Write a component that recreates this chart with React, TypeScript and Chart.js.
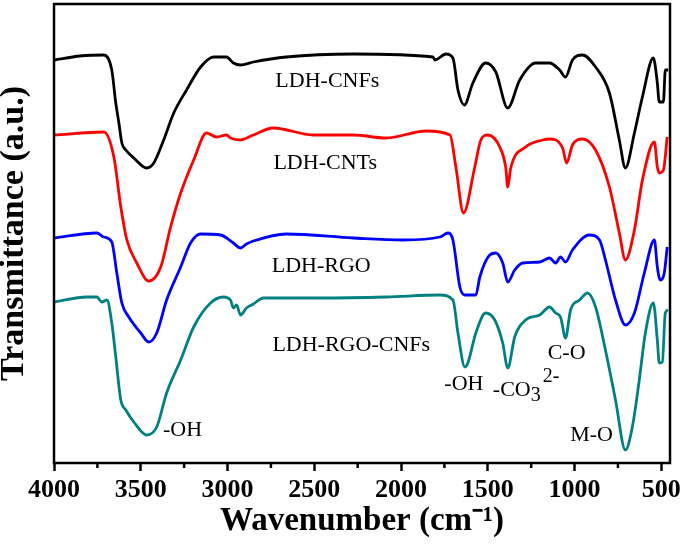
import React, { useEffect, useRef } from "react";
import { Chart, registerables } from "chart.js";

Chart.register(...registerables);

// ---------- data ----------
const xTickValues = [4000, 3500, 3000, 2500, 2000, 1500, 1000, 500];
const xMinorTickValues = [3750, 3250, 2750, 2250, 1750, 1250, 750];

const seriesNames = ["LDH-CNFs", "LDH-CNTs", "LDH-RGO", "LDH-RGO-CNFs"];
const seriesColors = ["#000000", "#ff0000", "#0000ff", "#008080"];

const cnfWavenumbers = [4000, 3850, 3713, 3667, 3644, 3626, 3609, 3586, 3540, 3466, 3425, 3368, 3310, 3236, 3155, 3080, 3006, 2966, 2925, 2851, 2661, 2276, 1816, 1805, 1741, 1701, 1672, 1635, 1586, 1512, 1454, 1385, 1316, 1224, 1144, 1086, 1052, 1012, 954, 879, 799, 742, 707, 655, 609, 546, 523, 512, 488, 477, 460];
const cnfValues = [403, 407, 408, 393, 360, 340, 320, 313, 305, 295, 300, 323, 350, 373, 396, 406, 406, 400, 398, 401, 406, 409, 406, 403, 409, 405, 373, 358, 380, 400, 391, 355, 383, 400, 400, 393, 386, 403, 408, 396, 370, 323, 295, 330, 366, 405, 380, 361, 361, 393, 393];

const cntWavenumbers = [4000, 3713, 3655, 3615, 3580, 3523, 3454, 3385, 3328, 3270, 3195, 3121, 3063, 3006, 2983, 2925, 2851, 2736, 2506, 2276, 2086, 1856, 1718, 1684, 1640, 1575, 1540, 1500, 1431, 1397, 1385, 1368, 1282, 1184, 1144, 1069, 1046, 1012, 954, 879, 799, 742, 707, 655, 609, 540, 523, 512, 488, 466];
const cntValues = [328, 331, 306, 256, 223, 200, 182, 196, 236, 270, 303, 330, 326, 328, 325, 323, 328, 335, 328, 328, 325, 332, 328, 296, 250, 296, 323, 328, 316, 296, 276, 295, 316, 323, 324, 315, 300, 318, 324, 313, 276, 230, 203, 233, 283, 321, 296, 290, 293, 326];

const rgoWavenumbers = [4000, 3753, 3713, 3667, 3638, 3609, 3569, 3500, 3454, 3408, 3351, 3270, 3213, 3155, 3040, 2966, 2925, 2891, 2851, 2661, 2276, 1989, 1776, 1730, 1701, 1661, 1632, 1569, 1546, 1489, 1454, 1414, 1385, 1345, 1299, 1201, 1144, 1109, 1081, 1052, 1012, 914, 856, 822, 764, 707, 655, 598, 540, 523, 506, 483, 466];
const rgoValues = [225, 230, 226, 221, 190, 160, 146, 130, 121, 130, 163, 196, 220, 229, 228, 220, 215, 219, 222, 229, 225, 223, 226, 230, 223, 176, 168, 168, 186, 208, 210, 200, 181, 193, 200, 201, 205, 200, 206, 201, 213, 228, 223, 203, 163, 138, 150, 190, 223, 196, 183, 190, 216];

const rgoCnfWavenumbers = [4000, 3810, 3753, 3724, 3695, 3667, 3644, 3615, 3586, 3540, 3466, 3408, 3351, 3270, 3195, 3098, 3023, 2983, 2966, 2948, 2925, 2891, 2851, 2793, 2466, 2086, 1776, 1701, 1672, 1632, 1615, 1569, 1512, 1460, 1414, 1385, 1345, 1282, 1201, 1144, 1109, 1081, 1052, 1023, 971, 925, 879, 822, 764, 707, 667, 627, 592, 546, 523, 512, 494, 477, 460];
const rgoCnfValues = [161, 166, 166, 161, 163, 140, 106, 63, 53, 41, 28, 36, 70, 103, 136, 160, 166, 163, 155, 158, 148, 155, 159, 165, 165, 166, 168, 163, 130, 96, 100, 130, 150, 143, 120, 95, 126, 143, 148, 156, 150, 146, 125, 153, 163, 170, 156, 113, 63, 13, 36, 83, 130, 160, 123, 100, 101, 150, 153];

// text labels inside the plot (anchored in data coordinates)
const labelTexts = ["LDH-CNFs", "LDH-CNTs", "LDH-RGO", "LDH-RGO-CNFs", "-OH", "-OH", "C-O", "M-O"];
const labelWavenumbers = [2425, 2437, 2460, 2287, 3259, 1638, 1046, 902];
const labelValues = [382, 300, 197, 118, 33, 79, 110, 28];
const carbonateText = ["-CO", "3", "2-"];
const carbonateAnchor = [1471, 73];

const xMin = 450;
const xMax = 4000;
const yMin = 0;
const yMax = 459;

const SERIF = "'Liberation Serif', 'Times New Roman', serif";

function pairs(xs: number[], ys: number[]) {
  return xs.map((x, i) => ({ x, y: ys[i] }));
}

const framePlugin = {
  id: "frameAndLabels",
  afterDatasetsDraw(chart: any) {
    const { ctx, chartArea, scales } = chart;
    const xs = scales.x;
    const ys = scales.y;
    ctx.save();
    // frame
    ctx.strokeStyle = "#000";
    ctx.lineWidth = 2.5;
    ctx.strokeRect(chartArea.left, chartArea.top, chartArea.right - chartArea.left, chartArea.bottom - chartArea.top);
    // minor ticks
    ctx.lineWidth = 2.5;
    for (const v of xMinorTickValues) {
      const px = xs.getPixelForValue(v);
      ctx.beginPath();
      ctx.moveTo(px, chartArea.bottom);
      ctx.lineTo(px, chartArea.bottom + 5);
      ctx.stroke();
    }
    // labels
    ctx.fillStyle = "#000";
    ctx.font = `22px ${SERIF}`;
    ctx.textAlign = "center";
    ctx.textBaseline = "middle";
    labelTexts.forEach((t, i) => {
      ctx.fillText(t, xs.getPixelForValue(labelWavenumbers[i]), ys.getPixelForValue(labelValues[i]));
    });
    // carbonate label with subscript/superscript
    let cx = xs.getPixelForValue(carbonateAnchor[0]);
    const cy = ys.getPixelForValue(carbonateAnchor[1]);
    ctx.textAlign = "left";
    ctx.fillText(carbonateText[0], cx, cy);
    cx += ctx.measureText(carbonateText[0]).width;
    ctx.font = `20px ${SERIF}`;
    ctx.fillText(carbonateText[1], cx, cy + 6);
    cx += ctx.measureText(carbonateText[1]).width + 2;
    ctx.fillText(carbonateText[2], cx, cy - 13);
    ctx.restore();
  },
};

export default function App() {
  const canvasRef = useRef<HTMLCanvasElement | null>(null);

  useEffect(() => {
    if (!canvasRef.current) return;
    const xSets = [cnfWavenumbers, cntWavenumbers, rgoWavenumbers, rgoCnfWavenumbers];
    const ySets = [cnfValues, cntValues, rgoValues, rgoCnfValues];
    const chart = new Chart(canvasRef.current, {
      type: "line",
      data: {
        datasets: seriesNames.map((name, i) => ({
          label: name,
          data: pairs(xSets[i], ySets[i]),
          borderColor: seriesColors[i],
          backgroundColor: seriesColors[i],
          borderWidth: 2.8,
          pointRadius: 0,
          fill: false,
          cubicInterpolationMode: "monotone" as const,
        })),
      },
      options: {
        responsive: false,
        animation: false,
        parsing: true,
        layout: { padding: { left: 0, right: 13, top: 4, bottom: 0 } },
        plugins: { legend: { display: false }, tooltip: { enabled: false } },
        scales: {
          x: {
            type: "linear",
            min: xMin,
            max: xMax,
            reverse: true,
            afterBuildTicks: (scale: any) => {
              scale.ticks = xTickValues.map((v) => ({ value: v }));
            },
            afterFit: (scale: any) => {
              scale.height = 89;
            },
            ticks: {
              color: "#000",
              font: { family: SERIF, size: 26, weight: "bold" },
              padding: 4,
              maxRotation: 0,
              autoSkip: false,
              callback: (v: any) => String(v),
            },
            grid: {
              display: true,
              drawOnChartArea: false,
              drawTicks: true,
              tickLength: 8,
              tickWidth: 2.5,
              tickColor: "#000",
            },
            border: { display: false },
            title: {
              display: true,
              text: "Wavenumber (cm\u207B\u00B9)",
              color: "#000",
              font: { family: SERIF, size: 33, weight: "bold" },
              padding: { top: 0, bottom: 11 },
            },
          },
          y: {
            type: "linear",
            min: yMin,
            max: yMax,
            afterFit: (scale: any) => {
              scale.width = 54;
            },
            ticks: { display: false },
            grid: { display: false },
            border: { display: false },
            title: {
              display: true,
              text: "Transmittance (a.u.)",
              color: "#000",
              font: { family: SERIF, size: 34, weight: "bold", lineHeight: 0.82 },
              padding: 0,
            },
          },
        },
      },
      plugins: [framePlugin],
    });
    return () => chart.destroy();
  }, []);

  return (
    <div style={{ position: "fixed", left: 0, top: 0, width: 685, height: 552, background: "#fff" }}>
      <canvas ref={canvasRef} width={685} height={552} style={{ display: "block" }} />
    </div>
  );
}
